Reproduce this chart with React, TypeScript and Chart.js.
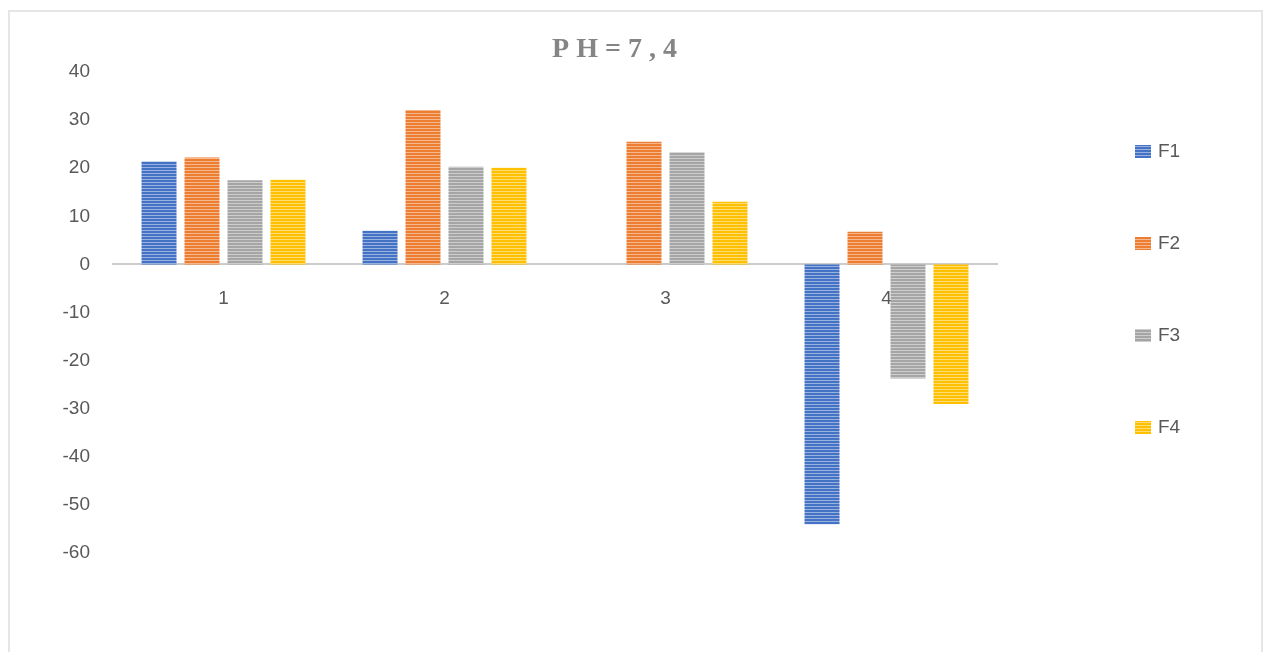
import React, { useEffect, useRef } from "react";
import { Chart, registerables } from "chart.js";

Chart.register(...registerables);

// Chart data
const categories = ["1", "2", "3", "4"];
const seriesNames = ["F1", "F2", "F3", "F4"];
const f1Values = [21.4, 7.0, 0, -54.0];
const f2Values = [22.2, 32.1, 25.5, 6.8];
const f3Values = [17.5, 20.3, 23.3, -23.7];
const f4Values = [17.6, 20.1, 13.0, -29.0];
const yMin = -60;
const yMax = 40;
const yStep = 10;
const titleText = "P H = 7 , 4";

const seriesColors = ["#4472C4", "#ED7D31", "#A5A5A5", "#FFC000"];
const textColor = "#595959";
const tickFont = { family: "'Liberation Sans', Arial, sans-serif", size: 19 };

// Horizontal-line fill, like an office "horizontal stripes" pattern
function stripes(color: string): CanvasPattern | string {
  const c = document.createElement("canvas");
  c.width = 4;
  c.height = 3;
  const g = c.getContext("2d");
  if (!g) return color;
  g.fillStyle = color;
  g.fillRect(0, 0, 4, 3);
  g.fillStyle = "rgba(255,255,255,0.45)";
  g.fillRect(0, 2, 4, 1);
  return g.createPattern(c, "repeat") || color;
}

const titleAndLegend = {
  id: "titleAndLegend",
  afterDraw(chart: any) {
    const ctx = chart.ctx as CanvasRenderingContext2D;
    const area = chart.chartArea;
    ctx.save();
    // title
    ctx.fillStyle = "#858585";
    ctx.font = "bold 28px 'Liberation Serif', 'Times New Roman', serif";
    ctx.textAlign = "center";
    ctx.textBaseline = "alphabetic";
    ctx.fillText(titleText, 604.5, 45);

    // vertical legend at the right
    const markerX = area.right + 138;
    const firstY = 139;
    const gap = 92;
    ctx.font = `${tickFont.size}px ${tickFont.family}`;
    ctx.textAlign = "left";
    ctx.textBaseline = "middle";
    chart.data.datasets.forEach((ds: any, i: number) => {
      const cy = firstY + i * gap;
      ctx.fillStyle = ds.backgroundColor;
      ctx.fillRect(markerX, cy - 6, 16, 13);
      ctx.fillStyle = textColor;
      ctx.fillText(ds.label, markerX + 23, cy + 1);
    });
    ctx.restore();
  },
};

function BarChart() {
  const canvasRef = useRef<HTMLCanvasElement | null>(null);

  useEffect(() => {
    if (!canvasRef.current) return;
    const values = [f1Values, f2Values, f3Values, f4Values];
    const chart = new Chart(canvasRef.current, {
      type: "bar",
      data: {
        labels: categories,
        datasets: seriesNames.map((name, i) => ({
          label: name,
          data: values[i],
          backgroundColor: stripes(seriesColors[i]) as any,
          borderWidth: 0,
          categoryPercentage: 0.778,
          barPercentage: 0.814,
        })),
      },
      options: {
        animation: false,
        responsive: true,
        maintainAspectRatio: false,
        layout: { padding: { top: 60, right: 264, bottom: 115, left: 0 } },
        plugins: {
          legend: { display: false },
          title: { display: false },
          tooltip: { enabled: false },
        },
        scales: {
          x: {
            position: { y: 0 } as any,
            grid: { display: false, drawTicks: false },
            border: { display: true, color: "#CCCCCC", width: 2 },
            ticks: { color: textColor, font: tickFont, padding: 23 },
            afterFit: (s: any) => {
              s.height = 0;
            },
          },
          y: {
            min: yMin,
            max: yMax,
            grid: { display: false, drawTicks: false },
            border: { display: false },
            ticks: { stepSize: yStep, color: textColor, font: tickFont, padding: 23 },
            afterFit: (s: any) => {
              s.width = 103;
            },
          },
        },
      },
      plugins: [titleAndLegend],
    });
    return () => chart.destroy();
  }, []);

  return (
    <div style={{ position: "relative", width: "100%", height: "100%" }}>
      <canvas ref={canvasRef} />
    </div>
  );
}

export default function App() {
  return (
    <div style={{ position: "fixed", inset: 0, overflow: "hidden", background: "#fff" }}>
      <div
        style={{
          position: "absolute",
          left: 8,
          top: 10,
          width: 1251,
          height: 656,
          border: "2px solid #E6E6E6",
          background: "#fff",
        }}
      >
        <BarChart />
      </div>
    </div>
  );
}
